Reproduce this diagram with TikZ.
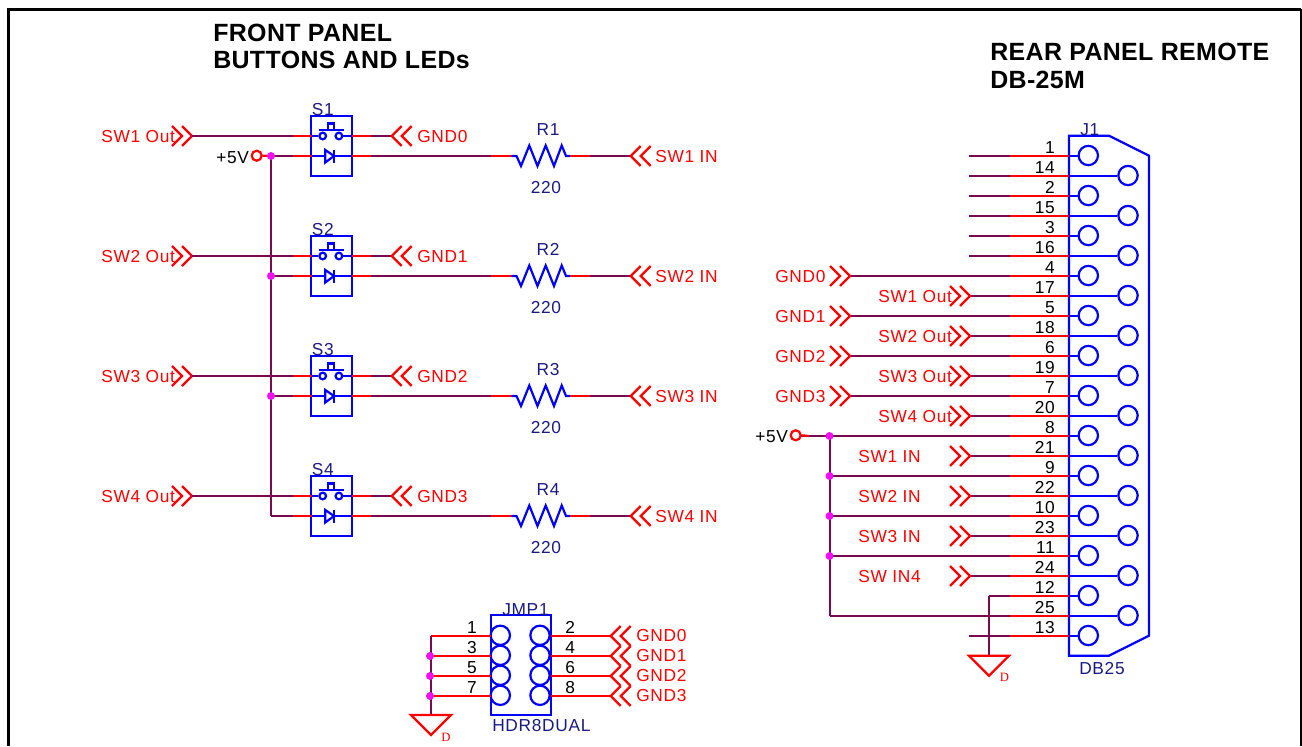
\documentclass[tikz,border=0pt]{standalone}
\usepackage{fontspec}
\newfontfamily\labfont[LetterSpace=4]{Liberation Sans}
\newfontfamily\ttlfont[LetterSpace=1.5]{Liberation Sans Bold}
\newfontfamily\dfont{Liberation Serif}
\definecolor{wiredark}{HTML}{7A0A50}
\definecolor{pinred}{HTML}{FF0000}
\definecolor{symblue}{HTML}{0000FF}
\definecolor{refnavy}{HTML}{1A1A80}
\definecolor{junc}{HTML}{F010F0}
\tikzset{
  darkw/.style={draw=wiredark,line width=1.65pt},
  redw/.style={draw=pinred,line width=1.65pt},
  bluew/.style={draw=symblue,line width=1.65pt},
  lab/.style={inner sep=0pt,font=\labfont\fontsize{13}{15}\selectfont},
  redlab/.style={lab,text=pinred,anchor=base west},
  navylab/.style={lab,text=refnavy,anchor=base west},
  navymid/.style={lab,text=refnavy,anchor=base},
  numlab/.style={lab,text=black,anchor=base east},
  numlabl/.style={lab,text=black,anchor=base west},
  blacklab/.style={lab,text=black,anchor=base west},
  ttl/.style={inner sep=0pt,anchor=base west,text=black,font=\ttlfont\fontsize{18.7}{22}\selectfont},
  dlab/.style={inner sep=0pt,anchor=base west,text=pinred,font=\dfont\fontsize{9.5}{11}\selectfont},
  pad/.style={circle,draw=symblue,line width=1.65pt,minimum size=14.5pt,inner sep=0pt},
  pwr/.style={circle,draw=pinred,line width=1.65pt,minimum size=7.5pt,inner sep=0pt},
  dot/.style={circle,fill=junc,draw=none,minimum size=6pt,inner sep=0pt},
  chevr/.pic={\draw[redw] (-20,-10)--(-10,0)--(-20,10) (-10,-10)--(0,0)--(-10,10);},
  chevl/.pic={\draw[redw] (10,-10)--(0,0)--(10,10) (20,-10)--(10,0)--(20,10);},
  gndsym/.pic={\draw[redw,line join=miter] (-20,0)--(20,0)--(0,20)--cycle;},
}
\begin{document}
\begin{tikzpicture}[x=0.75pt,y=-0.75pt]
\useasboundingbox (0,0) rectangle (1302,746);
% frame
\coordinate (fa) at (8.5,746); \coordinate (fb) at (8.5,9.5);
\coordinate (fc) at (1300.5,9.5); \coordinate (fd) at (1300.5,746);
\draw[black,line width=2.2pt,line join=miter] (fa)--(fb)--(fc);
\draw[black,line width=1.5pt,line join=miter] (fb)--(fc)--(fd);
% titles
\node[ttl] (t1) at (213,41) {FRONT PANEL};
\node[ttl] (t2) at (213,68.5) {BUTTONS AND LEDs};
\node[ttl] (t3) at (990,60.5) {REAR PANEL REMOTE};
\node[ttl] (t4) at (990,88.5) {DB-25M};
% power rail, front panel
\coordinate (railtop) at (271,156); \coordinate (railbot) at (271,516);
\draw[darkw,line join=miter] (railtop)--(railbot);
\node[blacklab] (p5a) at (216,163.3) {+5V};
\node[pwr] (p5ac) at (256.7,155.7) {};
\draw[redw] (p5ac.east)--(railtop);
% switches
\foreach \i/\y/\g in {1/136/0,2/256/1,3/376/2,4/496/3}{
  \pgfmathtruncatemacro\yb{\y+20}
  \pgfmathtruncatemacro\yt{\y-20}
  % box
  \node[draw=symblue,line width=1.65pt,minimum width=30.75pt,minimum height=45pt,inner sep=0pt] (S\i) at (331.7,{\y+10}) {};
  \node[navylab] (Sl\i) at (311.7,{\y-20.3}) {S\i};
  % top wire
  \coordinate (ia\i) at (192,\y); \coordinate (ib\i) at (293,\y); \coordinate (ic\i) at (311.7,\y);
  \coordinate (id\i) at (352,\y); \coordinate (ie\i) at (371,\y); \coordinate (if\i) at (391.7,\y);
  \node[redlab] (so\i) at (101,{\y+6.7}) {SW\i\ Out};
  \pic at (ia\i) {chevr};
  \draw[darkw] (ia\i)--(ib\i); \draw[redw] (ib\i)--(ic\i);
  \draw[redw] (id\i)--(ie\i); \draw[darkw] (ie\i)--(if\i);
  \pic at (if\i) {chevl};
  \node[redlab] (sg\i) at (417,{\y+6.7}) {GND\g};
  % push button
  \node[circle,draw=symblue,line width=1.65pt,minimum size=5pt,inner sep=0pt] (bl\i) at (322.7,\y) {};
  \node[circle,draw=symblue,line width=1.65pt,minimum size=5pt,inner sep=0pt] (br\i) at (338.9,\y) {};
  \draw[bluew] (ic\i)--(bl\i.west); \draw[bluew] (br\i.east)--(id\i);
  \draw[bluew] (319,{\y-6})--(344,{\y-6});
  \draw[bluew] (328,{\y-6})--(328,{\y-12.5})--(334,{\y-12.5})--(334,{\y-6});
  % bottom wire
  \coordinate (ja\i) at (271,\yb); \coordinate (jb\i) at (293,\yb); \coordinate (jc\i) at (311.7,\yb);
  \coordinate (jd\i) at (352,\yb); \coordinate (je\i) at (371,\yb); \coordinate (jf\i) at (491,\yb);
  \coordinate (jg\i) at (511.7,\yb); \coordinate (jh\i) at (570,\yb); \coordinate (ji\i) at (590,\yb);
  \coordinate (jj\i) at (630.7,\yb);
  \draw[darkw] (ja\i)--(jb\i); \draw[redw] (jb\i)--(jc\i);
  \draw[bluew] (jc\i)--(jd\i);
  \draw[symblue,fill=white,line width=1.65pt,line join=miter] (325.3,{\yb-6})--(334,\yb)--(325.3,{\yb+6.5})--cycle;
  \draw[bluew] (334,{\yb-6.5})--(334,{\yb+6.5});
  \draw[redw] (jd\i)--(je\i); \draw[darkw] (je\i)--(jf\i); \draw[redw] (jf\i)--(jg\i);
  \draw[bluew,line join=miter] (jg\i)--(516.5,\yb)--(521,{\yb+10})--(529.3,{\yb-10.5})--(537.5,{\yb+10})--(545.7,{\yb-10.5})--(554,{\yb+10})--(561.7,{\yb-10.5})--(566,\yb)--(jh\i);
  \draw[redw] (jh\i)--(ji\i); \draw[darkw] (ji\i)--(jj\i);
  \pic at (jj\i) {chevl};
  \node[redlab] (si\i) at (655,{\yb+6.7}) {SW\i\ IN};
  \node[navymid] (Rn\i) at (548,{\y-1}) {R\i};
  \node[navymid] (Rv\i) at (546,{\y+57.3}) {220};
}
\foreach \i in {1,2,3}{ \node[dot] (rd\i) at (ja\i) {}; }
% J1 connector body
\coordinate (k1) at (1069,135.7); \coordinate (k2) at (1109,135.7); \coordinate (k3) at (1149,155.7);
\coordinate (k4) at (1149,635.7); \coordinate (k5) at (1109,655.7); \coordinate (k6) at (1069,655.7);
\draw[bluew,line join=miter] (k1)--(k2)--(k3)--(k4)--(k5)--(k6)--cycle;
\node[navylab] (J1l) at (1080,135.5) {J1};
\node[navylab] (J1v) at (1079,674) {DB25};
% J1 pins
\foreach \n/\st [count=\k from 0] in {1/969,14/969,2/969,15/969,3/969,16/969,4/850,17/970,5/850,18/970,6/850,19/970,7/850,20/970,8/801,21/970,9/830,22/970,10/830,23/970,11/830,24/970,12/989,25/830,13/969}{
  \pgfmathtruncatemacro\yy{156+20*\k}
  \pgfmathtruncatemacro\od{mod(\k,2)}
  \ifnum\od=1 \def\cx{1128}\else\def\cx{1088.3}\fi
  \node[pad] (pad\n) at (\cx,{\yy-0.5}) {};
  \coordinate (a\n) at (\st,\yy); \coordinate (b\n) at (1010,\yy); \coordinate (c\n) at (1069,\yy);
  \draw[darkw] (a\n)--(b\n); \draw[redw] (b\n)--(c\n);
  \draw[bluew] (c\n)--(pad\n.west |- c\n);
  \node[numlab] (num\n) at (1055,{\yy-2.7}) {\n};
}
% J1 left side signals
\foreach \n/\g in {4/0,5/1,6/2,7/3}{
  \pic at (a\n) {chevr};
  \path (a\n) ++(-75,6.7) node[redlab] (jg\n) {GND\g};
}
\foreach \n/\g in {17/1,18/2,19/3,20/4}{
  \pic at (a\n) {chevr};
  \path (a\n) ++(-92,6.7) node[redlab] (js\n) {SW\g\ Out};
}
\foreach \n/\t in {21/SW1 IN,22/SW2 IN,23/SW3 IN,24/SW IN4}{
  \pic at (a\n) {chevr};
  \path (a\n) ++(-112,6.9) node[redlab] (jt\n) {\t};
}
% +5V rear
\node[blacklab] (p5b) at (755,442.7) {+5V};
\node[pwr] (p5bc) at (795.7,435.3) {};
\coordinate (p5r) at (809,436);
\draw[redw] (p5bc.east)--(p5r);
\draw[darkw] (p5r)--(b8);
\coordinate (rr1) at (830,436);
\draw[darkw,line join=miter] (rr1)--(a25);
\foreach \n in {8,9,10,11}{ \coordinate (rr) at (829.5,0); \node[dot] (rd\n) at (rr |- a\n) {}; }
% pin 12 ground
\coordinate (g1) at (989,655.7);
\draw[darkw] (a12)--(g1);
\pic at (g1) {gndsym};
\node[dlab] (gd1) at (999.5,681.7) {D};
% JMP1
\node[draw=symblue,line width=1.65pt,minimum width=45pt,minimum height=75pt,inner sep=0pt] (JMP) at (521,665) {};
\node[navylab] (JMPl) at (502,615) {JMP1};
\node[navylab] (JMPv) at (492,731.7) {HDR8DUAL};
\foreach \l/\r/\g [count=\k from 0] in {1/2/0,3/4/1,5/6/2,7/8/3}{
  \pgfmathtruncatemacro\yy{636+20*\k}
  \node[pad] (hl\l) at (500.3,{\yy-0.7}) {};
  \node[pad] (hr\r) at (540,{\yy-0.7}) {};
  \coordinate (la\l) at (431,\yy); \coordinate (lb\l) at (491,\yy);
  \coordinate (ra\r) at (551,\yy); \coordinate (rb\r) at (610.7,\yy);
  \draw[redw] (la\l)--(lb\l); \draw[redw] (ra\r)--(rb\r);
  \pic at (rb\r) {chevl};
  \node[numlab] (hn\l) at (477,{\yy-2.7}) {\l};
  \node[numlabl] (hn\r) at (565,{\yy-2.7}) {\r};
  \node[redlab] (hg\r) at (636,{\yy+5.7}) {GND\g};
}
\coordinate (g2) at (431,715);
\draw[darkw] (la1)--(g2);
\pic at (g2) {gndsym};
\node[dlab] (gd2) at (441,741.7) {D};
\foreach \l in {3,5,7}{ \node[dot] (hd\l) at ([xshift=-0.75pt]la\l) {}; }
\end{tikzpicture}
\end{document}
